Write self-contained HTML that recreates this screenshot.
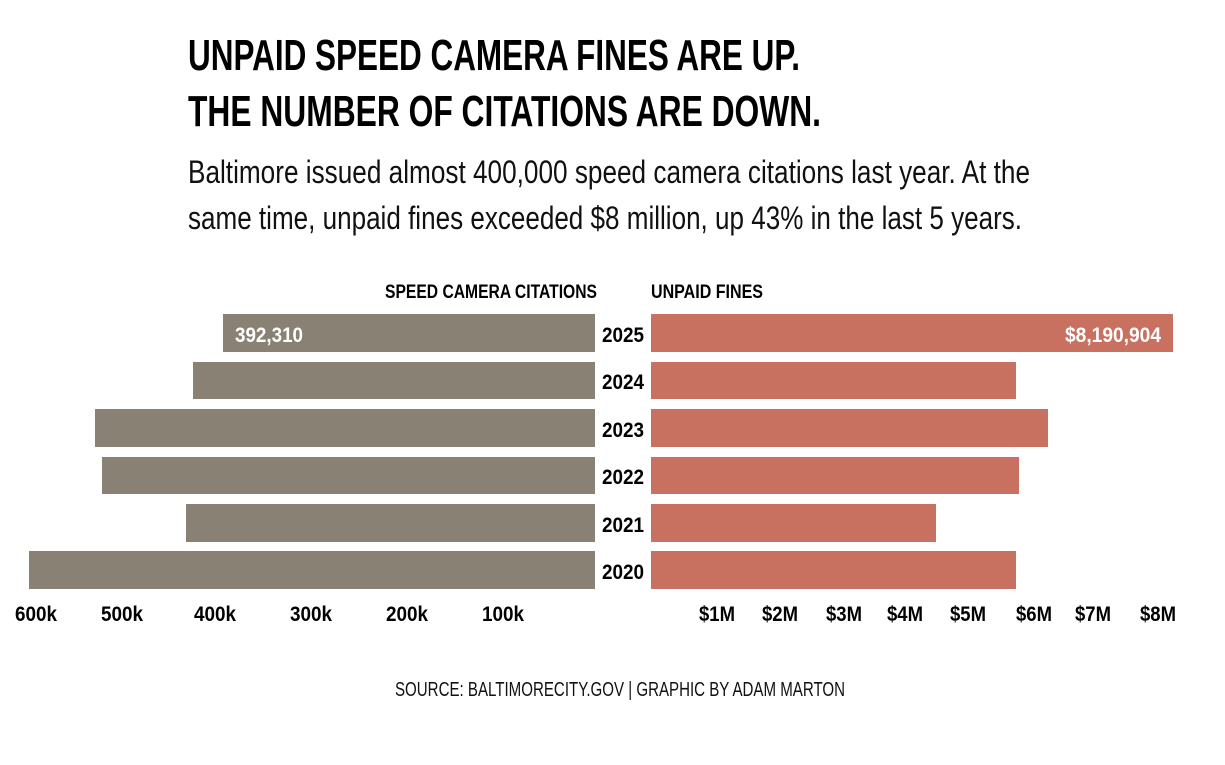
<!DOCTYPE html>
<html><head><meta charset="utf-8"><style>
html,body{margin:0;padding:0;background:#fff;}
svg{display:block;}
text{font-family:"Liberation Sans",sans-serif;}
</style></head><body>
<svg width="1225" height="765" viewBox="0 0 1225 765" xmlns="http://www.w3.org/2000/svg">
<rect width="1225" height="765" fill="#fff"/>
<text x="188" y="70" font-size="44" font-weight="bold" textLength="612" lengthAdjust="spacingAndGlyphs">UNPAID SPEED CAMERA FINES ARE UP.</text>
<text x="188" y="126" font-size="44" font-weight="bold" textLength="633" lengthAdjust="spacingAndGlyphs">THE NUMBER OF CITATIONS ARE DOWN.</text>
<text x="188" y="183" font-size="32" fill="#111" textLength="842" lengthAdjust="spacingAndGlyphs">Baltimore issued almost 400,000 speed camera citations last year. At the</text>
<text x="188" y="229" font-size="32" fill="#111" textLength="834" lengthAdjust="spacingAndGlyphs">same time, unpaid fines exceeded $8 million, up 43% in the last 5 years.</text>
<text x="385" y="298" font-size="19" font-weight="bold" textLength="212" lengthAdjust="spacingAndGlyphs">SPEED CAMERA CITATIONS</text>
<text x="651" y="298" font-size="19" font-weight="bold" textLength="112" lengthAdjust="spacingAndGlyphs">UNPAID FINES</text>
<g fill="#8a8175">
<rect x="223" y="314" width="372" height="38"/>
<rect x="193" y="362" width="402" height="37"/>
<rect x="95" y="409" width="500" height="38"/>
<rect x="102" y="457" width="493" height="37"/>
<rect x="186" y="504" width="409" height="38"/>
<rect x="29" y="551" width="566" height="38"/>
</g>
<g fill="#c97160">
<rect x="651" y="314" width="522" height="38"/>
<rect x="651" y="362" width="365" height="37"/>
<rect x="651" y="409" width="397" height="38"/>
<rect x="651" y="457" width="368" height="37"/>
<rect x="651" y="504" width="285" height="38"/>
<rect x="651" y="551" width="365" height="38"/>
</g>
<text x="235" y="342" font-size="21" font-weight="bold" fill="#fff" textLength="68" lengthAdjust="spacingAndGlyphs">392,310</text>
<text x="1161" y="342" font-size="21" font-weight="bold" fill="#fff" text-anchor="end" textLength="96" lengthAdjust="spacingAndGlyphs">$8,190,904</text>
<g font-size="21" font-weight="bold" text-anchor="middle">
<text x="623" y="342" textLength="42" lengthAdjust="spacingAndGlyphs">2025</text>
<text x="623" y="389" textLength="42" lengthAdjust="spacingAndGlyphs">2024</text>
<text x="623" y="437" textLength="42" lengthAdjust="spacingAndGlyphs">2023</text>
<text x="623" y="484" textLength="42" lengthAdjust="spacingAndGlyphs">2022</text>
<text x="623" y="532" textLength="42" lengthAdjust="spacingAndGlyphs">2021</text>
<text x="623" y="579" textLength="42" lengthAdjust="spacingAndGlyphs">2020</text>
</g>
<g font-size="21" font-weight="bold" text-anchor="middle">
<text x="36" y="621" textLength="42" lengthAdjust="spacingAndGlyphs">600k</text>
<text x="122" y="621" textLength="42" lengthAdjust="spacingAndGlyphs">500k</text>
<text x="215" y="621" textLength="42" lengthAdjust="spacingAndGlyphs">400k</text>
<text x="311" y="621" textLength="42" lengthAdjust="spacingAndGlyphs">300k</text>
<text x="407" y="621" textLength="42" lengthAdjust="spacingAndGlyphs">200k</text>
<text x="503" y="621" textLength="42" lengthAdjust="spacingAndGlyphs">100k</text>
<text x="717" y="621" textLength="36" lengthAdjust="spacingAndGlyphs">$1M</text>
<text x="780" y="621" textLength="36" lengthAdjust="spacingAndGlyphs">$2M</text>
<text x="844" y="621" textLength="36" lengthAdjust="spacingAndGlyphs">$3M</text>
<text x="905" y="621" textLength="36" lengthAdjust="spacingAndGlyphs">$4M</text>
<text x="968" y="621" textLength="36" lengthAdjust="spacingAndGlyphs">$5M</text>
<text x="1034" y="621" textLength="36" lengthAdjust="spacingAndGlyphs">$6M</text>
<text x="1093" y="621" textLength="36" lengthAdjust="spacingAndGlyphs">$7M</text>
<text x="1158" y="621" textLength="36" lengthAdjust="spacingAndGlyphs">$8M</text>
</g>
<text x="620" y="696" font-size="20" fill="#111" text-anchor="middle" textLength="450" lengthAdjust="spacingAndGlyphs">SOURCE: BALTIMORECITY.GOV | GRAPHIC BY ADAM MARTON</text>
</svg>
</body></html>
